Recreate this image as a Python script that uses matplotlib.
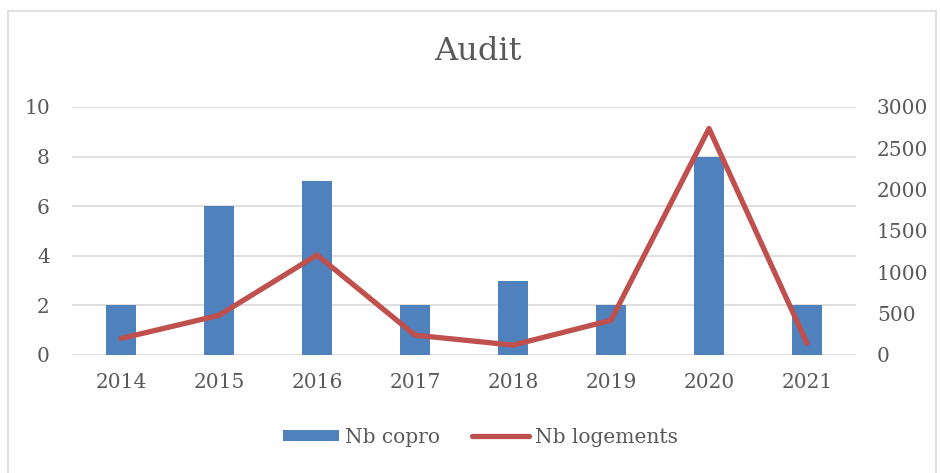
import numpy as np
import matplotlib
matplotlib.use("Agg")
import matplotlib.pyplot as plt
from matplotlib.patches import Rectangle

# data
years = ["2014", "2015", "2016", "2017", "2018", "2019", "2020", "2021"]
nb_copro = [2, 6, 7, 2, 3, 2, 8, 2]
nb_logements = [200, 480, 1210, 240, 120, 420, 2740, 140]

grey = "#595959"
blue = "#4F81BD"
red = "#C0504D"
plt.rcParams["font.family"] = ["DejaVu Serif"]

fig = plt.figure(figsize=(9.4, 4.73), dpi=100)
# chart border (bottom edge falls outside the picture)
fig.patches.append(Rectangle((8 / 940, -0.05), 928 / 940, 1.05 - 11 / 473,
                             transform=fig.transFigure, fill=False,
                             edgecolor="#D9D9D9", linewidth=1.2))

ax = fig.add_axes([72 / 940, 1 - 355 / 473, 784 / 940, 248 / 473])
x = np.arange(len(years))
ax.bar(x, nb_copro, width=0.31, color=blue, label="Nb copro", zorder=2)
ax.set_xlim(-0.5, len(years) - 0.5)
ax.set_ylim(0, 10)
ax.set_yticks(range(0, 11, 2))
ax.set_xticks(x)
ax.set_xticklabels(years)
ax.yaxis.grid(True, color="#D9D9D9", linewidth=1.2, zorder=0)
ax.set_axisbelow(True)
for s in ax.spines.values():
    s.set_visible(False)
ax.tick_params(axis="both", length=0, colors=grey, labelsize=14.5)
ax.tick_params(axis="y", pad=16)
ax.tick_params(axis="x", pad=13)

ax2 = ax.twinx()
ax2.plot(x, nb_logements, color=red, linewidth=3.8, label="Nb logements",
         solid_capstyle="round", zorder=3)
ax2.set_ylim(0, 3000)
ax2.set_yticks(range(0, 3001, 500))
for s in ax2.spines.values():
    s.set_visible(False)
ax2.tick_params(axis="y", length=0, colors=grey, labelsize=14.5, pad=15)

fig.text(478 / 940, 1 - 52 / 473, "Audit", ha="center", va="center",
         fontsize=23, color=grey)

h1, l1 = ax.get_legend_handles_labels()
h2, l2 = ax2.get_legend_handles_labels()
fig.legend(h1 + h2, l1 + l2, loc="center", bbox_to_anchor=(480 / 940, 1 - 437 / 473),
           ncol=2, frameon=False, fontsize=14.5, labelcolor=grey,
           handlelength=2.8, handleheight=0.5, handletextpad=0.3, columnspacing=1.6)

fig.savefig("out.png", dpi=100)
